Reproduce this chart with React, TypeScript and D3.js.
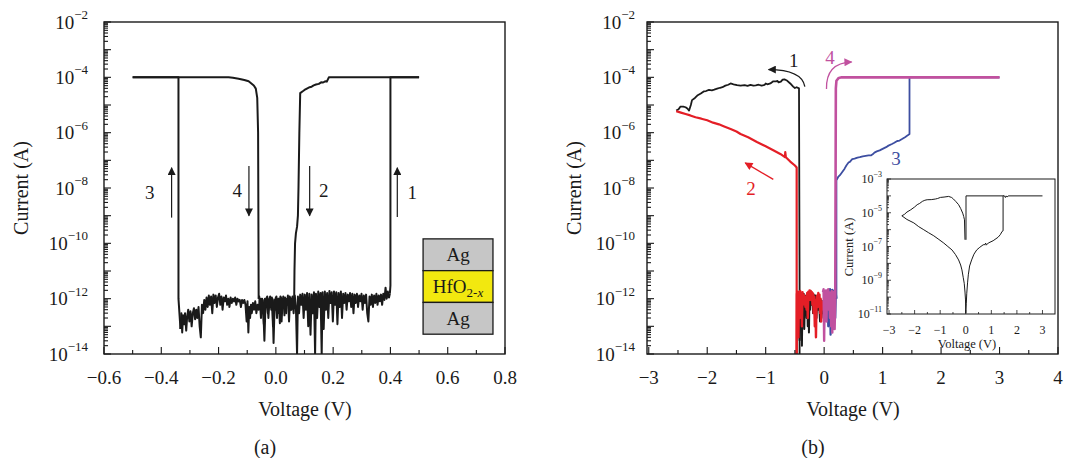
import React from 'react'
import * as d3 from 'd3'

type Pt = [number, number]

// ---------- panel (a): Ag/HfO2-x/Ag single cycle, [voltage (V), current (A)] ----------
const setA1: Pt[] = [[0.398, 1.5e-12], [0.4, 3e-12], [0.4, 1e-4], [0.5, 1e-4]]
const resetA2: Pt[] = [
  [0.5, 1e-4], [0.185, 1e-4], [0.178, 7e-5], [0.172, 7.2e-5], [0.165, 6.5e-5], [0.158, 6.6e-5],
  [0.15, 5.8e-5], [0.14, 5.5e-5], [0.132, 5.1e-5], [0.125, 4.6e-5], [0.118, 4.4e-5], [0.11, 4e-5],
  [0.1, 3.5e-5], [0.095, 3.2e-5], [0.085, 2.7e-5], [0.082, 1e-6], [0.079, 1e-8], [0.077, 1e-9],
  [0.074, 4e-10], [0.07, 2.3e-10], [0.067, 1e-10], [0.065, 1e-11], [0.064, 1e-12]
]
const floorA2: Pt[] = [
  [-0.333, 8e-14], [-0.33, 3e-13], [-0.327, 6e-14], [-0.324, 2.5e-13], [-0.32, 1.2e-13], [-0.317, 3e-13],
  [-0.313, 7e-14], [-0.31, 2e-13], [-0.306, 4e-13], [-0.302, 1.5e-13], [-0.298, 3.5e-13], [-0.294, 1e-13],
  [-0.29, 3e-13], [-0.286, 4.5e-13], [-0.282, 1.8e-13], [-0.278, 4e-13], [-0.274, 2e-13], [-0.27, 5e-13],
  [-0.266, 1e-13], [-0.262, 4e-14], [-0.258, 6e-13], [-0.254, 3e-13], [-0.25, 9e-13], [-0.246, 4e-13],
  [-0.242, 1.1e-12], [-0.238, 5e-13], [-0.234, 1.3e-12], [-0.23, 6e-13], [-0.226, 1.2e-12], [-0.222, 3e-13],
  [-0.218, 1.4e-12], [-0.214, 7e-13], [-0.21, 1.3e-12], [-0.206, 5e-13], [-0.202, 1.1e-12], [-0.198, 1.5e-12],
  [-0.194, 6e-13], [-0.19, 1.2e-12], [-0.186, 4e-13], [-0.182, 1.1e-12], [-0.178, 8e-13], [-0.174, 1.3e-12],
  [-0.17, 6e-13], [-0.166, 1e-12], [-0.162, 5e-13], [-0.158, 1.1e-12], [-0.154, 7e-13], [-0.15, 1e-12],
  [-0.146, 8e-13], [-0.142, 1.1e-12], [-0.138, 6e-13], [-0.134, 1e-12], [-0.13, 8e-13], [-0.126, 9e-13],
  [-0.122, 5e-13], [-0.118, 9e-13], [-0.114, 7e-13], [-0.11, 9e-13], [-0.106, 6e-13], [-0.102, 1.5e-13],
  [-0.099, 8e-13], [-0.096, 6e-14], [-0.093, 5e-13], [-0.09, 2e-13], [-0.087, 6e-13], [-0.084, 3e-13],
  [-0.08, 7e-13], [-0.076, 4e-13], [-0.072, 8e-13], [-0.068, 3e-13], [-0.064, 6e-13], [-0.06, 4e-13],
  [-0.056, 9e-13], [-0.052, 2e-13], [-0.048, 1e-12], [-0.044, 5e-13], [-0.04, 3e-14], [-0.036, 7e-13],
  [-0.032, 1.1e-12], [-0.028, 3e-13], [-0.024, 9e-13], [-0.02, 1.2e-12], [-0.016, 4e-13], [-0.012, 1e-12],
  [-0.008, 2.5e-14], [-0.004, 8e-13], [0, 1.1e-12], [0.004, 2e-13], [0.008, 1e-12], [0.012, 6e-13],
  [0.016, 1.2e-12], [0.02, 1.5e-13], [0.024, 1e-12], [0.028, 5e-13], [0.032, 1.1e-12], [0.036, 3e-13],
  [0.04, 1e-12], [0.044, 7e-13], [0.048, 1.2e-12], [0.052, 4e-13], [0.056, 1e-12], [0.06, 8e-13], [0.064, 1e-12]
]
const setA3: Pt[] = [[-0.333, 8e-14], [-0.34, 1e-12], [-0.34, 1e-4], [-0.5, 1e-4]]
const resetA4: Pt[] = [
  [-0.5, 1e-4], [-0.165, 1e-4], [-0.15, 9.6e-5], [-0.13, 8.9e-5], [-0.11, 8e-5], [-0.095, 7.2e-5],
  [-0.077, 5.1e-5], [-0.07, 3.9e-5], [-0.065, 1.8e-5], [-0.062, 1e-6], [-0.06, 1e-12]
]
const floorA4: Pt[] = [
  [-0.06, 1e-12], [-0.058, 1.2e-12], [-0.055, 5e-13], [-0.052, 1e-12], [-0.049, 3e-13], [-0.046, 9e-13],
  [-0.042, 1.2e-13], [-0.038, 1e-12], [-0.034, 6e-13], [-0.03, 1.2e-12], [-0.026, 2e-13], [-0.022, 1e-12],
  [-0.018, 5e-13], [-0.014, 1.1e-12], [-0.01, 1e-13], [-0.006, 9e-13], [-0.002, 4e-13], [0.002, 1.2e-12],
  [0.006, 3e-13], [0.01, 1e-12], [0.014, 1.3e-13], [0.018, 1.1e-12], [0.022, 5e-13], [0.026, 1.2e-12],
  [0.03, 2.5e-13], [0.034, 1e-12], [0.038, 6e-13], [0.042, 1.3e-12], [0.046, 1.5e-13], [0.05, 1.1e-12],
  [0.054, 4e-13], [0.058, 1.2e-12], [0.062, 3e-13], [0.066, 1.3e-12], [0.07, 5e-13], [0.074, 1e-14],
  [0.077, 1.2e-12], [0.081, 3e-13], [0.085, 1.4e-12], [0.089, 6e-13], [0.093, 1.5e-12], [0.097, 2e-13],
  [0.101, 1.4e-12], [0.105, 4e-13], [0.109, 1.6e-12], [0.113, 1e-13], [0.117, 1.5e-12], [0.121, 5e-14],
  [0.125, 1.4e-12], [0.129, 3e-13], [0.133, 1.7e-12], [0.137, 1e-14], [0.14, 1.5e-12], [0.144, 2e-13],
  [0.148, 1.8e-12], [0.152, 5e-13], [0.156, 1.6e-12], [0.16, 1e-14], [0.163, 1.7e-12], [0.167, 8e-14],
  [0.171, 1.8e-12], [0.175, 4e-13], [0.179, 1.6e-12], [0.183, 2e-13], [0.187, 1.9e-12], [0.191, 7e-13],
  [0.195, 1.7e-12], [0.199, 1.5e-13], [0.203, 1.8e-12], [0.207, 6e-13], [0.211, 1.7e-12], [0.215, 1.2e-13],
  [0.219, 1.6e-12], [0.223, 5e-13], [0.227, 1.8e-12], [0.231, 2e-13], [0.235, 1.5e-12], [0.239, 7e-13],
  [0.243, 1.6e-12], [0.247, 4e-13], [0.251, 1.4e-12], [0.255, 8e-13], [0.259, 1.6e-12], [0.263, 5e-13],
  [0.267, 1.5e-12], [0.271, 3e-13], [0.275, 1.4e-12], [0.279, 7e-13], [0.283, 1.5e-12], [0.287, 5e-13],
  [0.291, 1.3e-12], [0.295, 8e-13], [0.299, 1.5e-12], [0.303, 4e-13], [0.307, 1.3e-12], [0.311, 7e-13],
  [0.315, 1.4e-12], [0.319, 3e-13], [0.323, 1.5e-13], [0.327, 1.2e-12], [0.331, 6e-13], [0.335, 1.4e-12],
  [0.339, 5e-13], [0.343, 1.3e-12], [0.347, 7e-13], [0.351, 1.5e-12], [0.355, 6e-13], [0.359, 1.3e-12],
  [0.363, 8e-13], [0.367, 1.4e-12], [0.371, 6e-13], [0.375, 1.5e-12], [0.379, 9e-13], [0.383, 2.5e-12],
  [0.387, 1e-12], [0.391, 1.8e-12], [0.395, 1.1e-12], [0.398, 1.5e-12]
]
// sweep arrows in (a): voltage, start and end current, label and its voltage
const arrowsA: { v: number; from: number; to: number; label: string; lv: number }[] = [
  { v: -0.364, from: 8.5e-10, to: 5.4e-8, label: '3', lv: -0.44 },
  { v: -0.094, from: 6.3e-8, to: 1e-9, label: '4', lv: -0.135 },
  { v: 0.118, from: 6.3e-8, to: 1e-9, label: '2', lv: 0.167 },
  { v: 0.424, from: 9e-10, to: 5.4e-8, label: '1', lv: 0.476 }
]
const stackLayers = ['Ag', 'HfO2-x', 'Ag']

// ---------- panel (b): four sweeps, [voltage (V), current (A)] ----------
const blackNoiseB: Pt[] = [
  [-0.42, 3e-14], [-0.41, 1e-12], [-0.4, 3e-13], [-0.39, 1.5e-12], [-0.38, 2e-14], [-0.37, 1.2e-12],
  [-0.36, 4e-13], [-0.35, 1.5e-12], [-0.34, 8e-14], [-0.33, 1e-12], [-0.32, 5e-13], [-0.31, 1.3e-12],
  [-0.3, 2e-13], [-0.29, 1.4e-12], [-0.28, 1e-13], [-0.27, 1.2e-12], [-0.26, 6e-14], [-0.25, 1.5e-12],
  [-0.24, 4e-13], [-0.23, 1.8e-12], [-0.21, 6e-13], [-0.2, 1.6e-12], [-0.19, 3e-13], [-0.18, 1.4e-12],
  [-0.16, 5e-13], [-0.15, 1.3e-12], [-0.13, 2e-13], [-0.12, 1.1e-12], [-0.1, 4e-13], [-0.09, 1e-12],
  [-0.07, 1.5e-13], [-0.06, 9e-13], [-0.04, 3e-13], [-0.03, 8e-13], [-0.01, 2e-13], [0, 6e-13]
]
const blackB: Pt[] = [
  [-0.42, 1e-14], [-0.42, 3e-12], [-0.43, 4e-5], [-0.47, 4.4e-5], [-0.5, 4.1e-5], [-0.53, 4.6e-5],
  [-0.58, 6e-5], [-0.63, 7.5e-5], [-0.68, 8.5e-5], [-0.71, 8.3e-5], [-0.74, 7e-5], [-0.78, 6.6e-5],
  [-0.8, 7.4e-5], [-0.82, 7.2e-5], [-0.87, 7.2e-5], [-0.92, 6e-5], [-0.97, 5.6e-5], [-1.0, 6e-5],
  [-1.02, 5.3e-5], [-1.07, 5e-5], [-1.12, 5.4e-5], [-1.17, 5.1e-5], [-1.21, 5e-5], [-1.26, 5.3e-5],
  [-1.31, 4.9e-5], [-1.36, 5.2e-5], [-1.43, 5e-5], [-1.49, 5.2e-5], [-1.55, 5.6e-5], [-1.6, 6e-5],
  [-1.64, 5.4e-5], [-1.69, 5e-5], [-1.74, 4.4e-5], [-1.78, 4.2e-5], [-1.83, 3.9e-5], [-1.88, 3.6e-5],
  [-1.92, 3.4e-5], [-1.97, 3.5e-5], [-2.02, 3.2e-5], [-2.06, 3.1e-5], [-2.11, 2.6e-5], [-2.17, 2.2e-5],
  [-2.21, 1.8e-5], [-2.26, 1.5e-5], [-2.28, 1e-5], [-2.31, 6.3e-6], [-2.34, 7.5e-6], [-2.37, 8.3e-6],
  [-2.41, 8.8e-6], [-2.46, 8.7e-6], [-2.49, 7e-6], [-2.53, 6.3e-6]
]
const redB: Pt[] = [
  [-2.53, 6e-6], [-2.45, 5.3e-6], [-2.37, 4.7e-6], [-2.29, 4.2e-6], [-2.2, 3.6e-6], [-2.1, 3.2e-6],
  [-2.0, 2.8e-6], [-1.9, 2.3e-6], [-1.8, 2e-6], [-1.72, 1.7e-6], [-1.6, 1.35e-6], [-1.5, 1.1e-6],
  [-1.43, 9e-7], [-1.3, 6.8e-7], [-1.15, 4.6e-7], [-1.0, 3.2e-7], [-0.87, 2.3e-7], [-0.75, 1.7e-7],
  [-0.67, 1.3e-7], [-0.665, 2e-7], [-0.655, 1.3e-7], [-0.58, 9e-8], [-0.5, 6.5e-8], [-0.47, 5.5e-8],
  [-0.47, 1e-14]
]
const redNoiseB: Pt[] = [
  [-0.47, 1e-14], [-0.465, 1.5e-12], [-0.455, 3e-13], [-0.45, 1.8e-12], [-0.44, 4e-14], [-0.43, 1.6e-12],
  [-0.42, 2e-13], [-0.41, 1.9e-12], [-0.4, 5e-13], [-0.39, 1.5e-12], [-0.38, 1e-13], [-0.37, 1.7e-12],
  [-0.36, 6e-13], [-0.35, 1.4e-12], [-0.34, 8e-13], [-0.33, 1.2e-12], [-0.32, 5e-13], [-0.31, 1.1e-12],
  [-0.3, 4e-13], [-0.29, 1.6e-12], [-0.28, 2e-13], [-0.27, 1.8e-12], [-0.26, 1e-12], [-0.25, 2e-12],
  [-0.24, 9e-13], [-0.23, 1.9e-12], [-0.22, 1.2e-12], [-0.21, 1.7e-12], [-0.2, 6e-13], [-0.19, 1.5e-12],
  [-0.18, 3e-13], [-0.17, 1.2e-12], [-0.16, 1e-13], [-0.15, 9e-13], [-0.14, 4e-14], [-0.13, 7e-13],
  [-0.12, 1.3e-12], [-0.11, 5e-13], [-0.1, 1.6e-12], [-0.09, 8e-13], [-0.08, 1.4e-12], [-0.07, 3e-13],
  [-0.06, 1e-12], [-0.05, 1.5e-13], [-0.04, 8e-13], [-0.03, 4e-13], [-0.02, 6e-13]
]
const blueNoiseB: Pt[] = [
  [0.05, 8e-13], [0.06, 2e-12], [0.07, 1e-13], [0.08, 1.8e-12], [0.09, 6e-13], [0.1, 2.2e-12],
  [0.11, 5e-14], [0.12, 1.9e-12], [0.13, 3e-13], [0.14, 2.1e-12], [0.15, 8e-14], [0.16, 1.8e-12],
  [0.17, 5e-13], [0.18, 2e-12], [0.19, 2e-13], [0.2, 1.5e-12], [0.21, 1e-12]
]
const blueB: Pt[] = [
  [0.21, 1e-12], [0.21, 1.9e-8], [0.24, 2.5e-8], [0.27, 2.9e-8], [0.31, 3.8e-8], [0.35, 5e-8],
  [0.38, 6.5e-8], [0.42, 8.5e-8], [0.44, 8.8e-8], [0.48, 1.1e-7], [0.52, 1.15e-7], [0.57, 1.25e-7],
  [0.61, 1.3e-7], [0.66, 1.4e-7], [0.71, 1.45e-7], [0.76, 1.5e-7], [0.8, 1.5e-7], [0.83, 1.65e-7],
  [0.86, 1.9e-7], [0.9, 2.1e-7], [0.95, 2.3e-7], [1.0, 2.6e-7], [1.06, 3e-7], [1.1, 3.4e-7],
  [1.16, 3.9e-7], [1.2, 4.3e-7], [1.25, 5e-7], [1.29, 5.2e-7], [1.34, 6e-7], [1.39, 7e-7],
  [1.43, 8e-7], [1.46, 9e-7], [1.46, 1e-4], [3.0, 1e-4]
]
const magentaB: Pt[] = [
  [3.0, 1e-4], [0.3, 1e-4], [0.25, 9.5e-5], [0.21, 7.5e-5], [0.2, 4e-5], [0.19, 1e-12]
]
const magentaNoiseB: Pt[] = [
  [0.19, 1e-12], [0.18, 8e-14], [0.17, 1.8e-12], [0.16, 3e-13], [0.15, 1.5e-12], [0.14, 6e-14],
  [0.13, 1.9e-12], [0.12, 1e-13], [0.11, 1.6e-12], [0.1, 2e-13], [0.09, 1.7e-12], [0.08, 4e-13],
  [0.07, 2.2e-12], [0.06, 8e-13], [0.05, 1.9e-12], [0.04, 1.5e-13], [0.03, 2e-12], [0.02, 6e-13],
  [0.01, 1.8e-12], [0, 3e-14], [-0.01, 2.2e-12], [-0.02, 1.7e-12]
]

// ---------- inset of (b) ----------
const insetUpper: Pt[] = [
  [-2.5, 6.6e-6], [-2.4, 8e-6], [-2.3, 1.1e-5], [-2.15, 1.5e-5], [-2.0, 2.2e-5], [-1.9, 3e-5],
  [-1.8, 3.6e-5], [-1.7, 4.7e-5], [-1.6, 5.5e-5], [-1.51, 5.9e-5], [-1.35, 6e-5], [-1.19, 6.5e-5],
  [-1.1, 7e-5], [-0.99, 8.1e-5], [-0.85, 8.5e-5], [-0.67, 9.3e-5], [-0.55, 8e-5], [-0.48, 6.5e-5],
  [-0.38, 4.5e-5], [-0.28, 3e-5], [-0.2, 1.8e-5], [-0.12, 9.5e-6], [-0.08, 6e-6], [-0.05, 3.8e-6],
  [-0.03, 2.5e-7]
]
const insetLower: Pt[] = [
  [-2.5, 6.6e-6], [-2.3, 4e-6], [-2.03, 2.5e-6], [-1.84, 1.5e-6], [-1.64, 9.8e-7], [-1.45, 6.5e-7],
  [-1.25, 4.3e-7], [-1.05, 2.6e-7], [-0.86, 1.6e-7], [-0.7, 1e-7], [-0.54, 6.3e-8], [-0.4, 3.3e-8],
  [-0.28, 1.6e-8], [-0.2, 8e-9], [-0.15, 4.1e-9], [-0.1, 1.5e-9], [-0.06, 6.6e-10], [-0.03, 2e-10],
  [-0.01, 6.8e-11], [0, 1.1e-11]
]
const insetRight: Pt[] = [
  [0, 1.1e-11], [0.02, 4e-11], [0.04, 1.7e-10], [0.07, 7e-10], [0.1, 2.1e-9], [0.15, 7e-9],
  [0.23, 1.6e-8], [0.32, 3.5e-8], [0.43, 6.3e-8], [0.55, 9e-8], [0.68, 1.26e-7], [0.75, 1.3e-7],
  [0.78, 1.6e-7], [0.8, 1.2e-7], [0.88, 1.6e-7], [1.07, 2.2e-7], [1.26, 3.5e-7], [1.35, 5e-7],
  [1.42, 7.8e-7], [1.46, 8.5e-7], [1.46, 1e-4], [1.5, 1.05e-4], [1.55, 8e-5], [1.58, 1e-4],
  [1.62, 8.5e-5], [1.66, 1e-4], [3.0, 1e-4]
]
const insetSet: Pt[] = [[0.01, 2.5e-7], [0.01, 1e-4], [1.46, 1e-4]]

const FONT = '"Liberation Serif", "Times New Roman", serif'
const INK = '#1a1a1a'
const RED = '#e41e26'
const BLUE = '#3d4ea1'
const MAGENTA = '#c1519f'

type Box = { left: number; right: number; top: number; bottom: number }
const A: Box = { left: 104, right: 505, top: 22, bottom: 354 }
const B: Box = { left: 647, right: 1058, top: 22, bottom: 354 }
const INS: Box = { left: 887, right: 1055, top: 179, bottom: 314 }

const xA = d3.scaleLinear().domain([-0.6, 0.8]).range([A.left, A.right])
const yA = d3.scaleLog().domain([1e-14, 1e-2]).range([A.bottom, A.top])
const xB = d3.scaleLinear().domain([-3.03, 4]).range([B.left, B.right])
const yB = d3.scaleLog().domain([1e-14, 1e-2]).range([B.bottom, B.top])
const xI = d3.scaleLinear().domain([-3.08, 3.49]).range([INS.left, INS.right])
const yI = d3.scaleLog().domain([1e-11, 1e-3]).range([INS.bottom, INS.top])

const minus = (s: string) => s.replace('-', '\u2212')

function Frame(p: {
  x: d3.ScaleLinear<number, number>
  y: d3.ScaleLogarithmic<number, number>
  box: Box
  xMajor: number[]
  xMinor: number[]
  xFmt: (v: number) => string
  yLabels: number[]
  major: number
  minor: number
  fs: number
  supFs: number
  yGap: number
  xBase: number
  sw: number
}) {
  const { x, y, box } = p
  const yt = y.ticks(40)
  return (
    <g stroke={INK} fill="none">
      {yt.map((v, i) => {
        const e = Math.log10(v)
        const len = Math.abs(e - Math.round(e)) < 1e-6 ? p.major : p.minor
        return <line key={'y' + i} x1={box.left} x2={box.left + len} y1={y(v)} y2={y(v)} strokeWidth={p.sw * 0.8} />
      })}
      {p.xMinor.map((v, i) => (
        <line key={'xm' + i} x1={x(v)} x2={x(v)} y1={box.bottom} y2={box.bottom - p.minor} strokeWidth={p.sw * 0.8} />
      ))}
      {p.xMajor.map((v, i) => (
        <line key={'xM' + i} x1={x(v)} x2={x(v)} y1={box.bottom} y2={box.bottom - p.major} strokeWidth={p.sw * 0.8} />
      ))}
      <rect x={box.left} y={box.top} width={box.right - box.left} height={box.bottom - box.top} strokeWidth={p.sw} />
      <g stroke="none" fill={INK} fontFamily={FONT}>
        {p.yLabels.map(e => (
          <text key={'yl' + e} x={box.left - p.yGap} y={y(10 ** e)} textAnchor="end" dominantBaseline="central" fontSize={p.fs}>
            10<tspan dy={-p.fs * 0.42} fontSize={p.supFs}>{minus(String(e))}</tspan>
          </text>
        ))}
        {p.xMajor.map((v, i) => (
          <text key={'xl' + i} x={x(v)} y={p.xBase} textAnchor="middle" fontSize={p.fs}>{p.xFmt(v)}</text>
        ))}
      </g>
    </g>
  )
}

function Curve({ data, x, y, color, w }: { data: Pt[]; x: (v: number) => number; y: (v: number) => number; color: string; w: number }) {
  const line = d3.line<Pt>().x(d => x(d[0])).y(d => y(d[1]))
  return <path d={line(data) || ''} fill="none" stroke={color} strokeWidth={w} strokeLinejoin="round" />
}

export default function App() {
  const fA = d3.format('.1f')
  const xMajA = d3.range(-0.6, 0.8001, 0.2)
  const xMinA = d3.range(-0.5, 0.8, 0.2)
  const xMajB = d3.range(-3, 4.001, 1)
  const xMinB = d3.range(-2.5, 4, 1)
  const xMajI = d3.range(-3, 3.001, 1)
  const xMinI = d3.range(-2.5, 3.5, 1)

  // stack schematic (a), placed in data units
  const sx0 = xA(0.514), sx1 = xA(0.758)
  const sy0 = yA(1.45e-10), sy1 = yA(5.2e-14)
  const layerH = (sy1 - sy0) / 3

  const arcPath = (pts: Pt[]) =>
    `M${xB(pts[0][0])},${yB(pts[0][1])} Q${xB(pts[1][0])},${yB(pts[1][1])} ${xB(pts[2][0])},${yB(pts[2][1])}`

  return (
    <svg width={1066} height={458} style={{ position: 'absolute', left: 0, top: 0, background: '#fff' }} fontFamily={FONT}>
      <defs>
        <clipPath id="clipA"><rect x={A.left} y={A.top} width={A.right - A.left} height={A.bottom - A.top} /></clipPath>
        <clipPath id="clipB"><rect x={B.left} y={B.top} width={B.right - B.left} height={B.bottom - B.top} /></clipPath>
        <clipPath id="clipI"><rect x={INS.left} y={INS.top} width={INS.right - INS.left} height={INS.bottom - INS.top} /></clipPath>
        {[['k', INK], ['r', RED], ['m', MAGENTA]].map(([id, c]) => (
          <marker key={id} id={'ah-' + id} viewBox="0 0 10 10" refX={9} refY={5} markerWidth={12} markerHeight={8}
            markerUnits="userSpaceOnUse" orient="auto">
            <path d="M0,0 L10,5 L0,10 z" fill={c} />
          </marker>
        ))}
      </defs>

      {/* ---------- (a) ---------- */}
      <g clipPath="url(#clipA)">
        {[floorA2, floorA4, setA1, resetA2, setA3, resetA4].map((d, i) => (
          <Curve key={i} data={d} x={xA} y={yA} color={INK} w={2} />
        ))}
      </g>
      <Frame x={xA} y={yA} box={A} xMajor={xMajA} xMinor={xMinA} xFmt={v => minus(fA(Math.abs(v) < 1e-9 ? 0 : v))}
        yLabels={[-2, -4, -6, -8, -10, -12, -14]} major={7} minor={4} fs={19} supFs={13} yGap={16} xBase={384} sw={1.4} />
      {arrowsA.map(a => (
        <g key={a.label}>
          <line x1={xA(a.v)} x2={xA(a.v)} y1={yA(a.from)} y2={yA(a.to)} stroke={INK} strokeWidth={1.2} markerEnd="url(#ah-k)" />
          <text x={xA(a.lv)} y={yA(Math.sqrt(a.from * a.to))} textAnchor="middle" dominantBaseline="central" fontSize={19} fill={INK}>{a.label}</text>
        </g>
      ))}
      {stackLayers.map((l, i) => (
        <g key={i}>
          <rect x={sx0} y={sy0 + i * layerH} width={sx1 - sx0} height={layerH} fill={i === 1 ? '#f2e80f' : '#c6c6c6'} stroke={INK} strokeWidth={1.3} />
          <text x={(sx0 + sx1) / 2} y={sy0 + (i + 0.5) * layerH} textAnchor="middle" dominantBaseline="central" fontSize={19} fill={INK}>
            {l === 'Ag' ? 'Ag' : (
              <>HfO<tspan fontSize={13} dy={5}>2-</tspan><tspan fontSize={13} fontStyle="italic">x</tspan></>
            )}
          </text>
        </g>
      ))}
      <text x={21} y={188} transform="rotate(-90 21 188)" textAnchor="middle" dominantBaseline="central" fontSize={20} fill={INK}>Current (A)</text>
      <text x={305} y={416} textAnchor="middle" fontSize={20} fill={INK}>Voltage (V)</text>
      <text x={265} y={454} textAnchor="middle" fontSize={20} fill={INK}>(a)</text>

      {/* ---------- (b) ---------- */}
      <g clipPath="url(#clipB)">
        <Curve data={blackNoiseB} x={xB} y={yB} color={INK} w={2} />
        <Curve data={blackB} x={xB} y={yB} color={INK} w={1.8} />
        <Curve data={redB} x={xB} y={yB} color={RED} w={2.2} />
        <Curve data={redNoiseB} x={xB} y={yB} color={RED} w={2.4} />
        <Curve data={blueNoiseB} x={xB} y={yB} color={BLUE} w={2.2} />
        <Curve data={blueB} x={xB} y={yB} color={BLUE} w={1.8} />
        <Curve data={magentaB} x={xB} y={yB} color={MAGENTA} w={2.6} />
        <Curve data={magentaNoiseB} x={xB} y={yB} color={MAGENTA} w={2.4} />
      </g>
      <Frame x={xB} y={yB} box={B} xMajor={xMajB} xMinor={xMinB} xFmt={v => minus(String(v))}
        yLabels={[-2, -4, -6, -8, -10, -12, -14]} major={7} minor={4} fs={19} supFs={13} yGap={12} xBase={384} sw={1.4} />
      {/* sweep annotations */}
      <path d={arcPath([[-0.33, 4.6e-5], [-0.38, 1.9e-4], [-0.95, 1.9e-4]])} fill="none" stroke={INK} strokeWidth={1.3} markerEnd="url(#ah-k)" />
      <text x={xB(-0.52)} y={yB(4.2e-4)} textAnchor="middle" dominantBaseline="central" fontSize={19} fill={INK}>1</text>
      <line x1={xB(-0.87)} y1={yB(2.04e-8)} x2={xB(-1.35)} y2={yB(8.1e-8)} stroke={RED} strokeWidth={1.3} markerEnd="url(#ah-r)" />
      <text x={xB(-1.25)} y={yB(1e-8)} textAnchor="middle" dominantBaseline="central" fontSize={19} fill={RED}>2</text>
      <text x={xB(1.23)} y={yB(1.15e-7)} textAnchor="middle" dominantBaseline="central" fontSize={19} fill={BLUE}>3</text>
      <path d={arcPath([[0.04, 3.8e-5], [0.03, 3.3e-4], [0.47, 3.6e-4]])} fill="none" stroke={MAGENTA} strokeWidth={1.3} markerEnd="url(#ah-m)" />
      <text x={xB(0.1)} y={yB(5.2e-4)} textAnchor="middle" dominantBaseline="central" fontSize={19} fill={MAGENTA}>4</text>
      <text x={574} y={188} transform="rotate(-90 574 188)" textAnchor="middle" dominantBaseline="central" fontSize={20} fill={INK}>Current (A)</text>
      <text x={853} y={416} textAnchor="middle" fontSize={20} fill={INK}>Voltage (V)</text>
      <text x={813} y={454} textAnchor="middle" fontSize={20} fill={INK}>(b)</text>

      {/* ---------- inset ---------- */}
      <rect x={INS.left} y={INS.top} width={INS.right - INS.left} height={INS.bottom - INS.top} fill="#fff" />
      <g clipPath="url(#clipI)">
        {[insetUpper, insetLower, insetRight, insetSet].map((d, i) => (
          <Curve key={i} data={d} x={xI} y={yI} color={INK} w={1} />
        ))}
      </g>
      <Frame x={xI} y={yI} box={INS} xMajor={xMajI} xMinor={xMinI} xFmt={v => minus(String(v))}
        yLabels={[-3, -5, -7, -9, -11]} major={4} minor={2} fs={12} supFs={8} yGap={5} xBase={334} sw={1} />
      <text x={849} y={247} transform="rotate(-90 849 247)" textAnchor="middle" dominantBaseline="central" fontSize={12.5} fill={INK}>Current (A)</text>
      <text x={967} y={348} textAnchor="middle" fontSize={12.5} fill={INK}>Voltage (V)</text>
    </svg>
  )
}
